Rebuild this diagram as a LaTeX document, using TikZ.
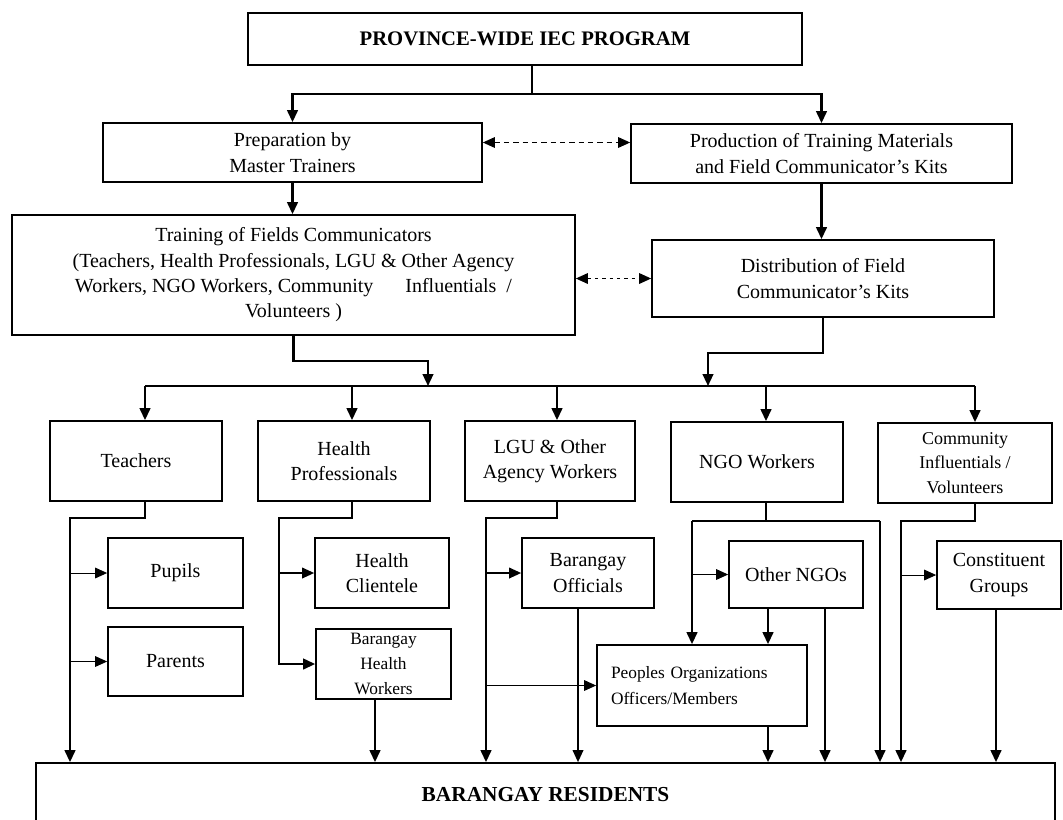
\documentclass[tikz,border=0pt]{standalone}
\usepackage{fontspec}
\setmainfont{Liberation Serif}
\usetikzlibrary{arrows.meta,calc}
\begin{document}
\begin{tikzpicture}[x=0.75pt,y=-0.75pt,
  box/.style={draw,line width=1.3pt,inner sep=1pt,align=center,font=\fontsize{15}{19}\selectfont},
  sz/.style 2 args={minimum width=#1*0.75pt,minimum height=#2*0.75pt},
  tip/.tip={Triangle[length=9pt,width=8pt]},
  ln/.style={line width=1.6pt},
  arr/.style={line width=1.6pt,-tip},
  marr/.style={line width=1.1pt,-tip},
  tarr/.style={line width=0.7pt,-tip},
  dsh/.style={line width=0.8pt,dash pattern=on 4pt off 3pt,tip-tip},
  dot/.style={line width=0.9pt,dash pattern=on 2.5pt off 3pt,tip-tip}
]
\useasboundingbox (0,0) rectangle (1063,819);

% nodes
\node[box,sz={554}{52},font=\bfseries\fontsize{15.5}{19}\selectfont] (title) at (525,39) {PROVINCE-WIDE IEC PROGRAM};
\node[box,sz={379}{59}] (prep) at (292.5,152.5) {Preparation by\\Master Trainers};
\node[box,sz={381}{59}] (prod) at (821.5,153.5) {Production of Training Materials\\and Field Communicator's Kits};
\node[box,sz={563}{120}] (train) at (293.5,275) {Training of Fields Communicators\\(Teachers, Health Professionals, LGU \& Other Agency\\Workers, NGO Workers, Community\hspace{1.6em}Influentials~~/\\Volunteers )};
\node[box,sz={342}{77}] (dist) at (823,278.5) {Distribution of Field\\Communicator's Kits};

\node[box,sz={172}{80}] (teach) at (136,461) {Teachers};
\node[box,sz={172}{80}] (hp) at (344,461) {Health\\Professionals};
\node[box,sz={170}{80}] (lgu) at (550,461) {LGU \& Other\\Agency Workers};
\node[box,sz={172}{80}] (ngo) at (757,462) {NGO Workers};
\node[box,sz={174}{80},font=\fontsize{13.5}{18.5}\selectfont] (comm) at (965,463) {Community\\Influentials /\\Volunteers};

\node[box,sz={135}{70}] (pupils) at (175.5,573) {Pupils};
\node[box,sz={135}{69}] (parents) at (175.5,661.5) {Parents};
\node[box,sz={134}{70}] (hc) at (382,573) {Health\\Clientele};
\node[box,sz={135}{70},inner ysep=0pt,font=\fontsize{13}{18.5}\selectfont] (bhw) at (383.5,664) {Barangay\\Health\\Workers};
\node[box,sz={132}{70}] (bo) at (588,573) {Barangay\\Officials};
\node[box,sz={134}{67}] (onr) at (796,574.5) {Other NGOs};
\node[box,sz={124}{68}] (cg) at (999,575) {Constituent\\Groups};
\node[box,minimum height=81*0.75pt,text width=182*0.75pt,inner xsep=14*0.75pt,align=left,font=\fontsize{13}{19}\selectfont] (po) at (702,685.5) {Peoples Organizations\\Officers/Members};

\node[box,sz={1019}{64},font=\bfseries\fontsize{16}{19}\selectfont] (res) at (545.5,795) {BARANGAY RESIDENTS};

% top connectors
\coordinate (j1) at (532,94);
\draw[ln] (title.south -| j1) -- (j1);
\draw[arr] (j1) -| (prep.north);
\draw[arr] (j1) -| (prod.north);
\draw[arr] (prep.south) -- (prep.south |- train.north);
\draw[arr] (prod.south) -- (prod.south |- dist.north);
\draw[dsh] ($(prep.east)+(0,-10)$) -- ($(prod.west)+(0,-11)$);
\draw[dot] (train.east |- dist.west) -- (dist.west);

% bus
\coordinate (bT) at (145,386);
\coordinate (bH) at (352,386);
\coordinate (bL) at (557,386);
\coordinate (bN) at (766,386);
\coordinate (bC) at (975,386);
\coordinate (tj) at (428,386);
\coordinate (dj) at (708,386);
\draw[ln] (bT) -- (bC);
\draw[arr] (train.south) -- ++(0,25) -| (tj);
\draw[arr] (dist.south) -- ++(0,35) -| (dj);
\foreach \b/\n in {bT/teach,bH/hp,bL/lgu,bN/ngo,bC/comm}
  \draw[arr] (\b) -- (\b |- \n.north);

% teachers
\coordinate (tL) at (70,518);
\draw[arr] (teach.south -| bT) |- (tL) -- (tL |- res.north);
\draw[tarr] (tL |- pupils.west) -- (pupils.west);
\draw[tarr] (tL |- parents.west) -- (parents.west);

% health professionals
\coordinate (hL) at (279,518);
\draw[arr] (hp.south -| bH) |- (hL) |- (bhw.west);
\draw[marr] (hL |- hc.west) -- (hc.west);
\coordinate (k1) at (375,0);
\draw[arr] (bhw.south -| k1) -- (k1 |- res.north);

% LGU
\coordinate (lL) at (486,518);
\draw[arr] (lgu.south -| bL) |- (lL) -- (lL |- res.north);
\draw[marr] (lL |- bo.west) -- (bo.west);
\draw[tarr] (lL |- po.west) -- (po.west);
\coordinate (k2) at (578,0);
\draw[marr] (bo.south -| k2) -- (k2 |- res.north);

% NGO
\coordinate (nL) at (692,521);
\coordinate (nR) at (880,521);
\draw[ln] (ngo.south -| bN) -- (bN |- nL);
\draw[ln] (nL) -- (nR);
\draw[arr] (nL) -- (nL |- po.north);
\draw[arr] (nR) -- (nR |- res.north);
\draw[tarr] (nL |- onr.west) -- (onr.west);
\coordinate (k3) at (768,0);
\coordinate (k4) at (825,0);
\draw[arr] (onr.south -| k3) -- (k3 |- po.north);
\draw[arr] (onr.south -| k4) -- (k4 |- res.north);
\draw[arr] (po.south -| k3) -- (k3 |- res.north);

% community
\coordinate (cL) at (901,521);
\draw[arr] (comm.south -| bC) |- (cL) -- (cL |- res.north);
\draw[tarr] (cL |- cg.west) -- (cg.west);
\coordinate (k5) at (996,0);
\draw[arr] (cg.south -| k5) -- (k5 |- res.north);
\end{tikzpicture}
\end{document}
